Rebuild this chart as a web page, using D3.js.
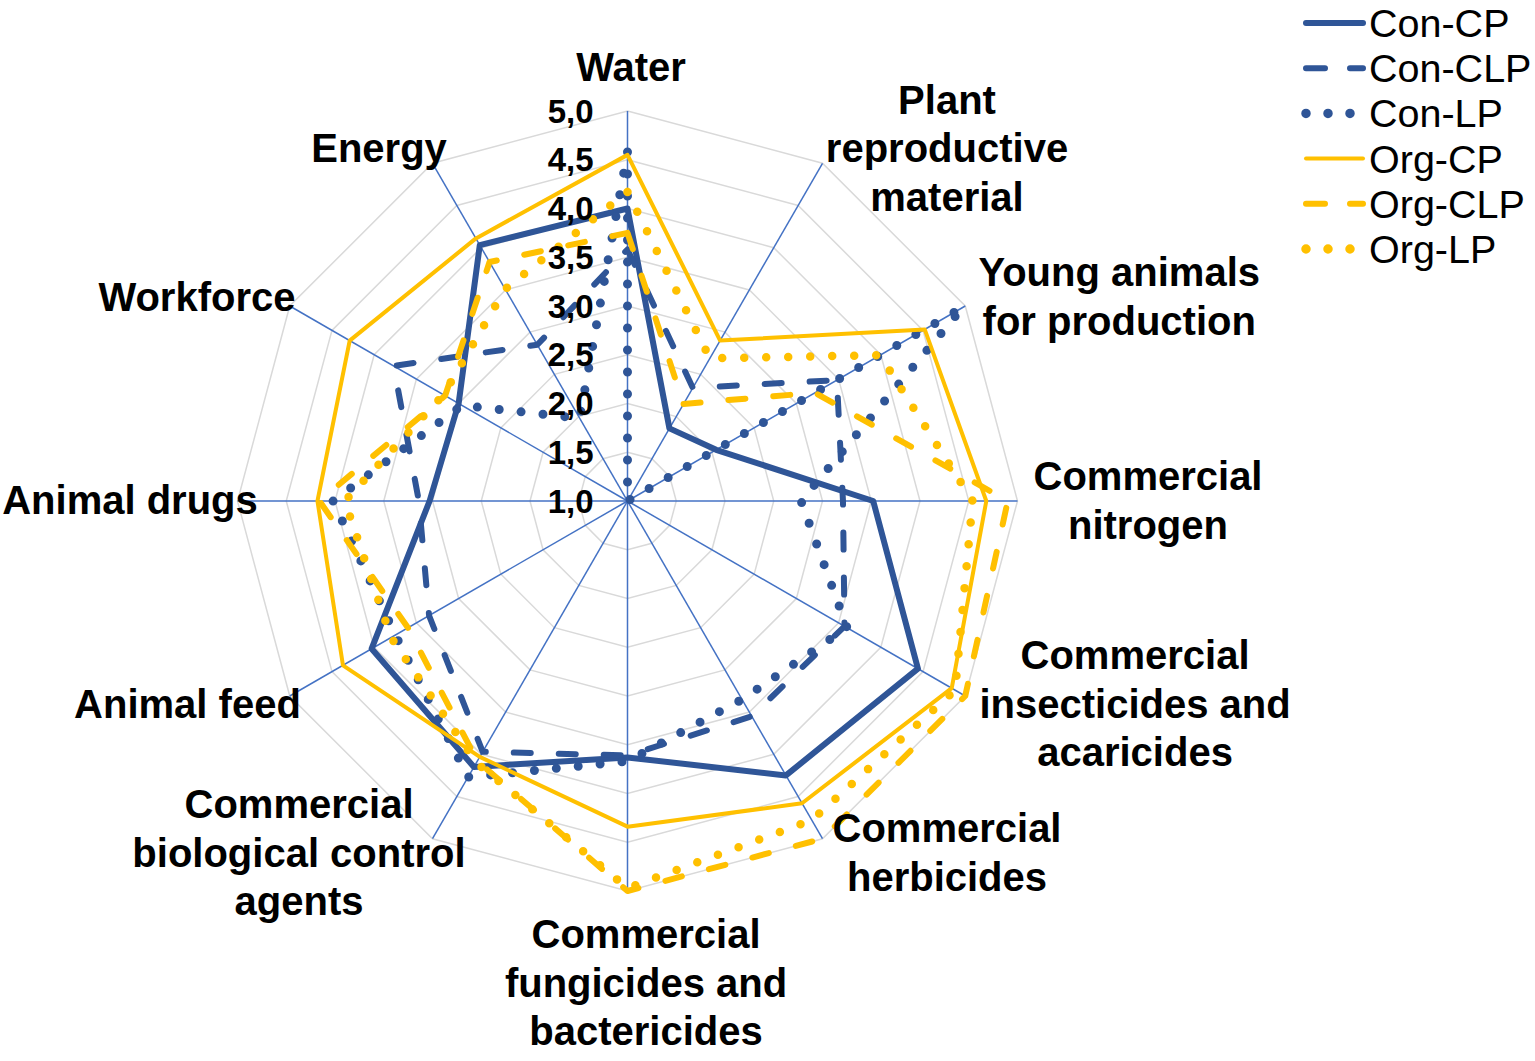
<!DOCTYPE html>
<html><head><meta charset="utf-8">
<script src="https://cdn.jsdelivr.net/npm/d3@7"></script>
<style>body{margin:0;background:#fff}svg{display:block}</style>
</head><body>
<svg id="chart" width="1535" height="1061"></svg>
<script>
// ---------- DATA ----------
const categories = ["Water","Plant reproductive material","Young animals for production","Commercial nitrogen",
  "Commercial insecticides and acaricides","Commercial herbicides","Commercial fungicides and bactericides",
  "Commercial biological control agents","Animal feed","Animal drugs","Workforce","Energy"];
const categoryLines = [["Water"],["Plant","reproductive","material"],["Young animals","for production"],
  ["Commercial","nitrogen"],["Commercial","insecticides and","acaricides"],["Commercial","herbicides"],
  ["Commercial","fungicides and","bactericides"],["Commercial","biological control","agents"],
  ["Animal feed"],["Animal drugs"],["Workforce"],["Energy"]];
const seriesNames = ["Con-CP","Con-CLP","Con-LP","Org-CP","Org-CLP","Org-LP"];
const conCP  = [4.00, 1.86, 2.05, 3.52, 4.44, 4.25, 3.63, 4.15, 4.03, 3.03, 3.00, 4.03];
const conCLP = [3.58, 2.34, 3.48, 3.21, 3.57, 3.55, 3.61, 3.97, 3.35, 3.14, 3.77, 2.85];
const conLP  = [4.58, 1.00, 4.97, 2.78, 3.60, 3.35, 3.67, 4.27, 3.75, 4.02, 2.96, 1.98];
const orgCP  = [4.55, 2.90, 4.52, 4.68, 4.84, 4.58, 4.34, 4.03, 4.37, 4.18, 4.29, 4.11];
const orgCLP = [3.75, 2.15, 3.22, 4.90, 5.00, 5.00, 5.00, 4.08, 3.60, 4.16, 3.16, 3.83];
const orgLP  = [4.17, 2.69, 3.99, 4.54, 4.88, 4.78, 4.97, 4.10, 3.80, 3.90, 3.18, 3.51];
const tickValues = [1.0, 1.5, 2.0, 2.5, 3.0, 3.5, 4.0, 4.5, 5.0];
const tickLabels = ["1,0","1,5","2,0","2,5","3,0","3,5","4,0","4,5","5,0"];

// ---------- LAYOUT / STYLE ----------
const cx = 627.5, cy = 501, R = 390;
const blue = "#2F5597", yellow = "#FFC000";
const seriesStyles = [
  {color: blue,   width: 6,   dash: null},
  {color: blue,   width: 6,   dash: "17,28"},
  {color: blue,   width: 9,   dash: "0,22"},
  {color: yellow, width: 4,   dash: null},
  {color: yellow, width: 6,   dash: "17,28"},
  {color: yellow, width: 8.5, dash: "0,22"}
];
// label block centre offsets from the outer end of each axis
const labelOffsets = [[3.5,-44],[124.5,-15],[154,-9.5],[130.5,-0.5],[169.8,7.5],[124.5,13.8],
  [18.5,91.5],[-133.5,13.8],[-102.3,8],[-107.5,-1],[-92.8,-9],[-53.5,-15.3]];
const labelFont = 40, labelLineH = 48.5, tickFont = 33, legendFont = 39.5;
const fontFamily = "'Liberation Sans', Arial, Helvetica, sans-serif";

const svg = d3.select("#chart");
svg.append("rect").attr("width",1535).attr("height",1061).attr("fill","#fff");

const n = categories.length;
const r = d3.scaleLinear().domain([1,5]).range([0,R]);
const ang = d3.scaleLinear().domain([0,n]).range([0,2*Math.PI]);
const g = svg.append("g").attr("transform",`translate(${cx},${cy})`);
const px = (i,v) => r(v)*Math.sin(ang(i));
const py = (i,v) => -r(v)*Math.cos(ang(i));

// grid rings
const ringLine = d3.lineRadial().angle((d,i)=>ang(i)).radius(d=>r(d)).curve(d3.curveLinearClosed);
tickValues.filter(t=>t>1).forEach(t=>{
  g.append("path").attr("d", ringLine(d3.range(n).map(()=>t)))
   .attr("fill","none").attr("stroke","#D9D9D9").attr("stroke-width",1.5);
});
// axes
d3.range(n).forEach(i=>{
  g.append("line").attr("x1",0).attr("y1",0).attr("x2",px(i,5)).attr("y2",py(i,5))
   .attr("stroke","#4472C4").attr("stroke-width",1.5);
});

// series
const allSeries = [conCP, conCLP, conLP, orgCP, orgCLP, orgLP];
const line = d3.lineRadial().angle((d,i)=>ang(i)).radius(d=>r(d)).curve(d3.curveLinearClosed);
allSeries.forEach((s,k)=>{
  const st = seriesStyles[k];
  const p = g.append("path").attr("d", line(s)).attr("fill","none")
    .attr("stroke", st.color).attr("stroke-width", st.width)
    .attr("stroke-linejoin","round");
  if (st.dash) p.attr("stroke-dasharray", st.dash).attr("stroke-linecap","round");
});

// tick labels
tickValues.forEach((t,i)=>{
  g.append("text").attr("x",-34).attr("y", -r(t) + 0.355*tickFont)
   .attr("text-anchor","end").attr("font-family",fontFamily).attr("font-weight","bold")
   .attr("font-size",tickFont).attr("fill","#000").text(tickLabels[i]);
});

// category labels
categoryLines.forEach((lines,i)=>{
  const bx = px(i,5) + labelOffsets[i][0];
  const by = py(i,5) + labelOffsets[i][1];
  const top = by - (lines.length-1)*labelLineH/2;
  const t = g.append("text").attr("text-anchor","middle").attr("font-family",fontFamily)
    .attr("font-weight","bold").attr("font-size",labelFont).attr("fill","#000");
  lines.forEach((ln,j)=>{
    t.append("tspan").attr("x",bx).attr("y", top + j*labelLineH + 0.355*labelFont).text(ln);
  });
});

// legend
const lg = svg.append("g");
seriesNames.forEach((name,k)=>{
  const y = 23 + k*45.2;
  const st = seriesStyles[k];
  const l = lg.append("line").attr("x1",1306).attr("x2",1363).attr("y1",y).attr("y2",y)
    .attr("stroke",st.color).attr("stroke-width", st.width===4?4:6).attr("stroke-linecap","round");
  if (st.dash === "0,22") l.attr("stroke-width",9.5).attr("stroke-dasharray","0,22");
  else if (st.dash) l.attr("stroke-dasharray","19,25");
  lg.append("text").attr("x",1369).attr("y", y + 0.355*legendFont)
    .attr("font-family",fontFamily).attr("font-size",legendFont).attr("fill","#000").text(name);
});
</script>
</body></html>
